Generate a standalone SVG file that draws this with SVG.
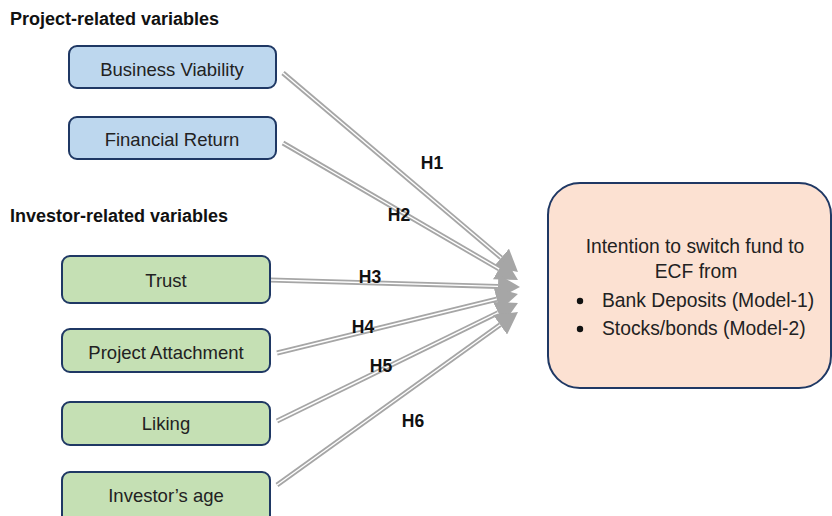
<svg xmlns="http://www.w3.org/2000/svg" width="832" height="516" viewBox="0 0 832 516">
<style>
  .title { font-family: "Liberation Sans", Arial, sans-serif; font-weight: bold; font-size: 18px; fill: #111; }
  .lbl { font-family: "Liberation Sans", Arial, sans-serif; font-size: 18.5px; fill: #222; text-anchor: middle; }
  .rt { font-family: "Liberation Sans", Arial, sans-serif; font-size: 19.3px; fill: #222; }
  .h { font-family: "Liberation Sans", Arial, sans-serif; font-weight: bold; font-size: 17.5px; fill: #111; text-anchor: middle; }
  .blue { fill: #bdd7ee; stroke: #1f3864; stroke-width: 2; }
  .green { fill: #c5e0b4; stroke: #1f3864; stroke-width: 2; }
  .peach { fill: #fce1d2; stroke: #1f3864; stroke-width: 2; }
  .outer { fill: none; stroke: #a6a6a6; stroke-width: 5; marker-end: url(#ah); }
  .inner { fill: none; stroke: #ffffff; stroke-width: 1.4; }
</style>
<defs>
  <marker id="ah" markerUnits="userSpaceOnUse" markerWidth="22" markerHeight="24" refX="0" refY="12" orient="auto" viewBox="0 0 22 24">
    <path d="M0,0 L22,12 L0,24 z" fill="#a6a6a6"/>
  </marker>
</defs>
<rect width="832" height="516" fill="#ffffff"/>

<text class="title" x="10" y="25">Project-related variables</text>
<text class="title" x="10" y="222">Investor-related variables</text>

<g id="connectors">
  <path class="outer" d="M283,73 L501.2,257.8"/>
  <path class="inner" d="M283,73 L501.2,257.8"/>
  <path class="outer" d="M283,143 L499,268.9"/>
  <path class="inner" d="M283,143 L499,268.9"/>
  <path class="outer" d="M270,280 L498,286.4"/>
  <path class="inner" d="M270,280 L498,286.4"/>
  <path class="outer" d="M277,353 L496.6,299.2"/>
  <path class="inner" d="M277,353 L496.6,299.2"/>
  <path class="outer" d="M277,421 L498.2,312.7"/>
  <path class="inner" d="M277,421 L498.2,312.7"/>
  <path class="outer" d="M277,485 L500.1,324.8"/>
  <path class="inner" d="M277,485 L500.1,324.8"/>
  <text class="h" x="432" y="169">H1</text>
  <text class="h" x="399" y="221">H2</text>
  <text class="h" x="370" y="283">H3</text>
  <text class="h" x="363" y="333">H4</text>
  <text class="h" x="381" y="372">H5</text>
  <text class="h" x="413" y="427">H6</text>
</g>

<g id="business-viability">
  <rect class="blue" x="69" y="46" width="207" height="42" rx="8"/>
  <text class="lbl" x="172" y="76">Business Viability</text>
</g>
<g id="financial-return">
  <rect class="blue" x="69" y="117" width="207" height="42" rx="8"/>
  <text class="lbl" x="172" y="146">Financial Return</text>
</g>
<g id="trust">
  <rect class="green" x="62" y="256" width="208" height="47" rx="8"/>
  <text class="lbl" x="166" y="287">Trust</text>
</g>
<g id="project-attachment">
  <rect class="green" x="62" y="329" width="208" height="43" rx="8"/>
  <text class="lbl" x="166" y="359">Project Attachment</text>
</g>
<g id="liking">
  <rect class="green" x="62" y="402" width="208" height="43" rx="8"/>
  <text class="lbl" x="166" y="430">Liking</text>
</g>
<g id="investors-age">
  <rect class="green" x="62" y="472" width="208" height="52" rx="8"/>
  <text class="lbl" x="166" y="502">Investor’s age</text>
</g>
<g id="intention">
  <rect class="peach" x="548" y="183" width="283" height="205" rx="32"/>
  <text class="rt" x="695" y="253" text-anchor="middle">Intention to switch fund to</text>
  <text class="rt" x="696" y="278" text-anchor="middle">ECF from</text>
  <circle cx="580" cy="301" r="3.2" fill="#111"/>
  <text class="rt" x="602" y="307">Bank Deposits (Model-1)</text>
  <circle cx="580" cy="329" r="3.2" fill="#111"/>
  <text class="rt" x="602" y="335">Stocks/bonds (Model-2)</text>
</g>
</svg>
